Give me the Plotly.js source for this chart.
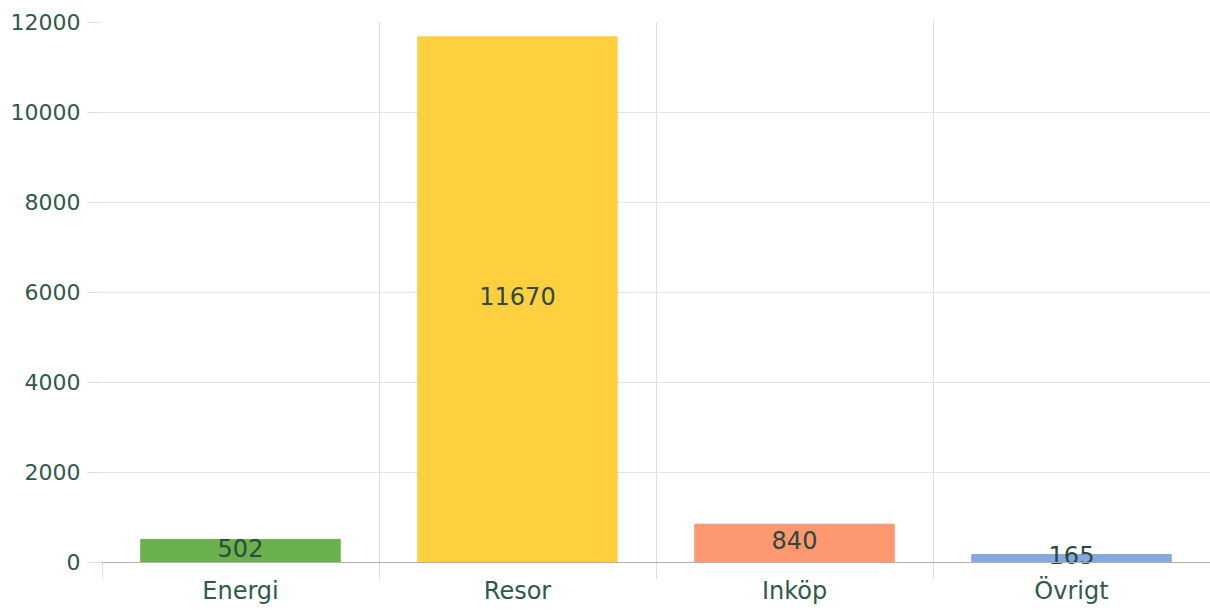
<!DOCTYPE html>
<html><head><meta charset="utf-8">
<script src="https://cdn.plot.ly/plotly-3.0.1.min.js"></script>
<style>html,body{margin:0;padding:0;background:#fff}#chart{width:1210px;height:610px}</style>
</head><body><div id="chart"></div>
<script>
const categories = ["Energi", "Resor", "Inköp", "Övrigt"];
const values = [502, 11670, 840, 165];
const fillColors = ["rgba(106,176,76,1)", "rgba(254,208,64,1)", "rgba(254,152,112,1)", "rgba(133,168,222,1)"];
const lineColors = ["rgb(106,176,76)", "rgb(254,208,64)", "rgb(254,152,112)", "rgb(133,168,222)"];
const yTicks = [0, 2000, 4000, 6000, 8000, 10000, 12000];

const font = "DejaVu Sans, sans-serif";
const bars = {
  type: "bar", x: categories, y: values,
  marker: {color: fillColors, line: {color: lineColors, width: 1}},
  hoverinfo: "none", showlegend: false
};
const labels = {
  type: "scatter", mode: "text", x: categories, y: values.map(v => v / 2),
  text: values.map(String), textposition: "middle center",
  textfont: {family: font, size: 24, color: "#2c4a3f"},
  cliponaxis: false, hoverinfo: "none", showlegend: false
};
const layout = {
  width: 1210, height: 610,
  margin: {l: 102, r: 0, t: 22, b: 48},
  paper_bgcolor: "#fff", plot_bgcolor: "#fff",
  bargap: 0.28,
  font: {family: font, size: 22, color: "#2f5a4b"},
  xaxis: {
    type: "category", tickson: "boundaries", ticks: "outside", ticklen: 16,
    tickcolor: "#e0e0e0", showgrid: true, gridcolor: "#e0e0e0", gridwidth: 1,
    showline: true, linecolor: "#b0b0b0", linewidth: 1, zeroline: false,
    ticklabelstandoff: 7,
    tickfont: {family: font, size: 24, color: "#2f5a4b"}, fixedrange: true
  },
  yaxis: {
    range: [0, 12000], tickvals: yTicks, ticktext: yTicks.map(String),
    ticks: "outside", ticklen: 14, tickcolor: "#e0e0e0",
    showgrid: true, gridcolor: "#e5e5e5", gridwidth: 1, zeroline: false,
    showline: false, ticklabelstandoff: 2,
    tickfont: {family: font, size: 22, color: "#2f5a4b"}, fixedrange: true
  }
};
Plotly.newPlot("chart", [bars, labels], layout, {displayModeBar: false, staticPlot: true});
</script></body></html>
